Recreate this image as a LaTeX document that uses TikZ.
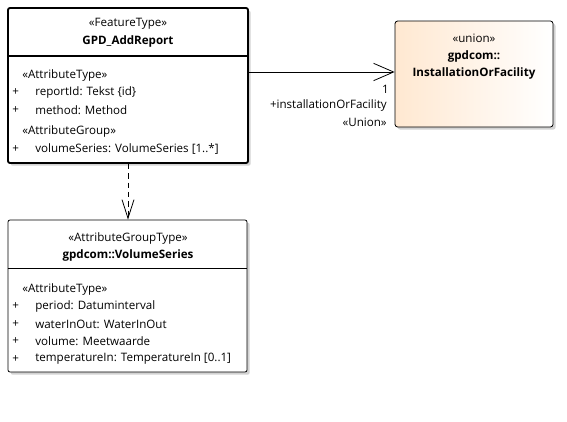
\documentclass[tikz,border=0pt]{standalone}
\usepackage{fontspec}
\setmainfont{Open Sans}
\usetikzlibrary{arrows.meta,shadows}
\begin{document}
\begin{tikzpicture}[x=0.75pt,y=-0.75pt,
  every node/.style={font=\fontsize{8.7}{10}\selectfont,inner sep=0pt},
  shad/.style={drop shadow={shadow xshift=2pt,shadow yshift=-2pt,fill=black!25,opacity=0.7}},
  cls/.style={draw=black,fill=white,rounded corners=1.5pt,shad},
  txt/.style={anchor=west},
  ctr/.style={anchor=center},
  bld/.style={font=\fontsize{8.7}{10}\selectfont\bfseries},
  openarrow/.style={-{Straight Barb[length=15pt,width=13pt,line width=0.6pt]}},
  dasharrow/.style={-{Straight Barb[length=14pt,width=9pt,line width=0.6pt]}}]
\useasboundingbox (0,0) rectangle (567,421);
% Box 1
\node[cls,line width=1.4pt,minimum width=180pt,minimum height=116.25pt] (b1) at (128,85.5) {};
\draw[line width=1.4pt] (b1.west |- 0,56) -- (b1.east |- 0,56);
\node[ctr] (b1s) at (128,24) {«FeatureType»};
\node[ctr,bld] (b1n) at (128,41) {GPD\_AddReport};
\node[txt] (b1a) at (22,75) {«AttributeType»};
\node[txt] (b1p1) at (12,92) {+};
\node[txt] (b1r) at (35,92) {reportId: Tekst \{id\}};
\node[txt] (b1p2) at (12,110) {+};
\node[txt] (b1m) at (35,110) {method: Method};
\node[txt] (b1g) at (22,131) {«AttributeGroup»};
\node[txt] (b1p3) at (12,149) {+};
\node[txt] (b1v) at (35,149) {volumeSeries: VolumeSeries [1..*]};
% Box 2
\node[draw=black,line width=0.6pt,rounded corners=2pt,left color=orange!18,right color=white,shad,minimum width=118.5pt,minimum height=79.5pt] (b2) at (474,74) {};
\node[ctr] (b2s) at (474,38) {«union»};
\node[ctr,bld] (b2n1) at (474,56) {gpdcom::};
\node[ctr,bld] (b2n2) at (474,73) {InstallationOrFacility};
% Association
\draw[openarrow,line width=0.6pt] (b1.east |- 0,72) -- (b2.west |- 0,72);
\node[anchor=east] (l1) at (389,89) {1};
\node[anchor=east] (l2) at (387,105) {+installationOrFacility};
\node[anchor=east] (l3) at (387,122) {«Union»};
% Box 3
\node[cls,line width=0.6pt,minimum width=179.25pt,minimum height=114pt] (b3) at (127.5,296) {};
\draw[line width=0.6pt] (b3.west |- 0,268) -- (b3.east |- 0,268);
\node[ctr] (b3s) at (128,238) {«AttributeGroupType»};
\node[ctr,bld] (b3n1) at (128,255) {gpdcom::VolumeSeries};
\node[txt] (b3a) at (22,289) {«AttributeType»};
\node[txt] (q1) at (12,306) {+};
\node[txt] (b3f1) at (35,306) {period: Datuminterval};
\node[txt] (q2) at (12,324) {+};
\node[txt] (b3f2) at (35,324) {waterInOut: WaterInOut};
\node[txt] (q3) at (12,341) {+};
\node[txt] (b3f3) at (35,341) {volume: Meetwaarde};
\node[txt] (q4) at (12,359) {+};
\node[txt] (b3f4) at (35,359) {temperatureIn: TemperatureIn [0..1]};
\draw[dasharrow,dashed,dash pattern=on 4pt off 3pt,line width=0.6pt] (b1.south -| 128,0) -- (b3.north -| 128,0);
\end{tikzpicture}
\end{document}
